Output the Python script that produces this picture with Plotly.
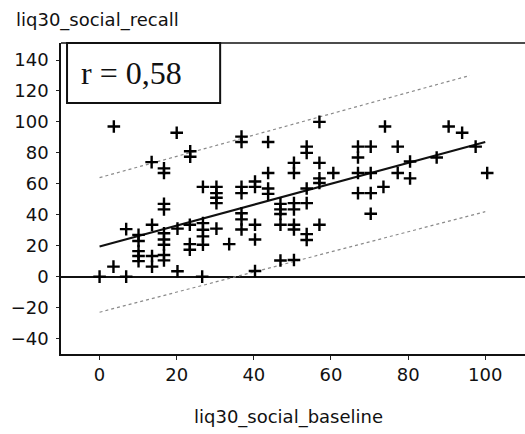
import plotly.graph_objects as go

# Data
baseline = [3.7, 20, 57, 74, 90.5, 94,
            36.8, 36.8, 43.7,
            23.5, 23.5,
            53.7, 53.7,
            67, 67, 70.3, 77.3, 97.5,
            87.4, 80.5,
            13.5, 16.7, 16.7,
            50.4, 50.4, 57,
            43.7, 60.6, 67, 70.3, 77.3, 100.5,
            57, 80.5,
            40.3, 40.3, 57,
            26.8, 30.3, 36.8, 43.7, 53.7, 73.6,
            30.3, 36.8, 43.7, 67, 70.3,
            30.3, 30.3,
            16.7, 16.7,
            46.9, 46.9, 46.9,
            50.4, 50.4, 53.7,
            36.8, 36.8, 70.3,
            13.6, 23.4, 26.8, 40.3, 46.9, 50.4, 57,
            6.9, 20.2, 26.8, 30.3, 36.8, 50.4,
            10.1, 16.7, 26.8, 53.7,
            10.1, 16.7, 40.3, 53.7,
            16.7, 23.4, 26.8, 33.6,
            23.4, 10.1, 10.1, 10.1,
            13.6, 13.6, 16.7, 16.7,
            3.6, 46.9, 50.4, 20.2, 40.3,
            0, 6.9, 26.6]
recall = [97, 93, 100, 97, 97, 93,
          90.5, 87, 87,
          81, 77.5,
          84, 80,
          84, 77, 84, 84, 84,
          77, 74.4,
          74, 70, 67,
          73.5, 67, 73.5,
          67, 67, 67, 67, 67, 67,
          63.5, 63.5,
          61.5, 58, 60.5,
          58, 58, 58, 57, 57, 58,
          54, 54, 53.5, 54, 54,
          51, 47.5,
          47, 43.5,
          47, 43.5, 40.5,
          47.5, 43.5, 47.5,
          41, 37, 40.6,
          33.5, 33.5, 34.6, 33.5, 33.5, 33.5, 33.5,
          30.7, 31, 30.3, 31, 30.5, 30.5,
          27, 28, 26, 27.5,
          23, 24, 24, 23.7,
          20.6, 21, 20.6, 21,
          17.4, 16.5, 13.3, 10,
          13.3, 6.5, 14, 10.5,
          6.5, 10.4, 10.8, 3.5, 3.6,
          0, 0, 0]

fit_x = [0, 100]
fit_y = [19.5, 87]
upper_x = [0, 96]
upper_y = [64, 130]
lower_x = [0, 100]
lower_y = [-23, 42]

x_ticks = [0, 20, 40, 60, 80, 100]
y_ticks = [-40, -20, 0, 20, 40, 60, 80, 100, 120, 140]

fig = go.Figure()
fig.add_trace(go.Scatter(x=upper_x, y=upper_y, mode="lines",
                         line=dict(color="#8a8a8a", width=1.2, dash="dot"),
                         hoverinfo="skip"))
fig.add_trace(go.Scatter(x=lower_x, y=lower_y, mode="lines",
                         line=dict(color="#8a8a8a", width=1.2, dash="dot"),
                         hoverinfo="skip"))
fig.add_trace(go.Scatter(x=fit_x, y=fit_y, mode="lines",
                         line=dict(color="#111111", width=2),
                         hoverinfo="skip"))
fig.add_trace(go.Scatter(x=baseline, y=recall, mode="markers",
                         marker=dict(symbol="cross-thin-open", size=9,
                                     color="#000000",
                                     line=dict(color="#000000", width=2.4))))

font = dict(family="DejaVu Sans, Arial, sans-serif", size=18, color="#111111")

fig.update_layout(
    width=525, height=434,
    margin=dict(l=61, r=0, t=43, b=80),
    paper_bgcolor="white", plot_bgcolor="white",
    showlegend=False,
    font=font,
    xaxis=dict(range=[-10, 110.3], tickvals=x_ticks, ticks="outside",
               ticklen=4, tickcolor="#222", showgrid=False, zeroline=False,
               showline=True, linecolor="#111", linewidth=1.5, mirror=False,
               ticklabelstandoff=0, tickfont=font),
    yaxis=dict(range=[-50, 151], tickvals=y_ticks, ticks="outside",
               ticklen=3, tickcolor="#222", showgrid=False,
               zeroline=True, zerolinecolor="#111", zerolinewidth=1.5,
               showline=True, linecolor="#111", linewidth=1.5,
               ticklabelstandoff=4, tickfont=font),
    shapes=[
        dict(type="line", xref="paper", yref="paper", x0=0, x1=1, y0=1, y1=1,
             line=dict(color="#111", width=1.5)),
        dict(type="rect", xref="paper", yref="paper", x0=0.013, x1=0.343,
             y0=0.807, y1=1.0, fillcolor="white",
             line=dict(color="#111", width=2), layer="above"),
    ],
    annotations=[
        dict(text="r = 0,58", xref="paper", yref="paper", x=0.153, y=0.903,
             showarrow=False, xanchor="center", yanchor="middle",
             font=dict(family="Liberation Serif, Times New Roman, serif",
                       size=32, color="#111")),
        dict(text="liq30_social_recall", xref="paper", yref="paper",
             x=-0.101, y=1.0, yshift=23, showarrow=False,
             xanchor="left", yanchor="middle", font=font),
        dict(text="liq30_social_baseline", xref="paper", yref="paper",
             x=0.49, y=0, yshift=-63, showarrow=False,
             xanchor="center", yanchor="middle", font=font),
    ],
)

fig.write_html("out.html",
               config={"displayModeBar": False},
               post_script="document.body.style.margin='0';"
                           "document.body.style.overflow='hidden';")
